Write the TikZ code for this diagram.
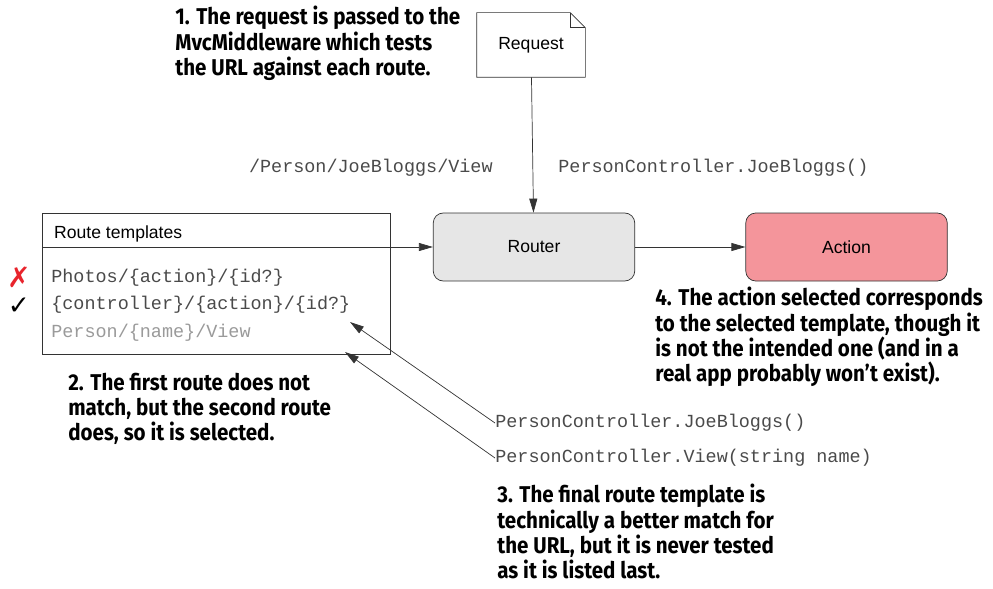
\documentclass[tikz,border=0pt]{standalone}
\usepackage{fontspec}
\usepackage{tikz}
\usepackage{xcolor}
\usetikzlibrary{arrows.meta, positioning, calc}
\setmainfont{Liberation Sans}
\setmonofont{Liberation Mono}
\newfontfamily\notefont[FakeStretch=0.9]{Fira Sans}
\newfontfamily\symfont{DejaVu Sans}
\definecolor{RouterGray}{HTML}{E6E6E6}
\definecolor{ActionRose}{HTML}{F4959B}
\definecolor{EdgeGray}{HTML}{333333}
\definecolor{CodeGray}{HTML}{4A4A4A}
\definecolor{FadedGray}{HTML}{9A9A9A}
\definecolor{MarkRed}{HTML}{E8242C}
\tikzset{
    % Node styles
    docbox/.style={
        rectangle,
        minimum width=2.16cm,
        minimum height=1.28cm,
        text centered,
        font=\fontsize{10}{12}\selectfont
    },
    flowbox/.style={
        rectangle,
        rounded corners=0.2cm,
        draw=EdgeGray,
        minimum width=4.03cm,
        minimum height=1.36cm,
        text centered,
        font=\fontsize{10}{12}\selectfont
    },
    codetext/.style={
        inner sep=0pt,
        text=CodeGray,
        font=\ttfamily\fontsize{10.5}{12}\selectfont
    },
    marktext/.style={
        inner sep=0pt,
        font=\symfont\fontsize{15}{15}\selectfont
    },
    notetext/.style={
        inner sep=0pt,
        align=left,
        text=black,
        font=\notefont\bfseries\fontsize{13}{14.3}\selectfont
    },
    % Arrow styles
    myarrow/.style={
        -{Triangle[length=2.8mm,width=1.6mm]},
        EdgeGray
    }
}
\begin{document}
\begin{tikzpicture}
    \useasboundingbox (0,0) rectangle (19.86,-11.78);

    % main flow
    \node[docbox] (req) at (10.62,-0.9) {Request};
    \draw[EdgeGray] (req.south west) -- (req.north west) -- ($(req.north east)+(-0.3,0)$)
        -- ($(req.north east)+(0,-0.3)$) -- (req.south east) -- cycle;
    \draw[EdgeGray] ($(req.north east)+(-0.3,0)$) -- ($(req.north east)+(-0.3,-0.3)$)
        -- ($(req.north east)+(0,-0.3)$);

    \node[flowbox, fill=RouterGray] (router) at (10.68,-4.94) {Router};
    \node[flowbox, fill=ActionRose] (action) at (16.93,-4.94) {Action};

    % route templates box
    \node[draw=EdgeGray, minimum width=6.96cm, minimum height=2.82cm, anchor=north west] (templates) at (0.84,-4.26) {};
    \coordinate (split) at (7.8,-4.94);
    \draw[EdgeGray] (templates.west |- split) -- (split);
    \node[anchor=west, font=\fontsize{10}{12}\selectfont] (title) at (0.96,-4.68) {Route templates};
    \node[codetext, anchor=west] (tpla) at (1.02,-5.56) {Photos/\{action\}/\{id?\}};
    \node[codetext, anchor=west] (tplb) at (1.02,-6.10) {\{controller\}/\{action\}/\{id?\}};
    \node[codetext, anchor=west, text=FadedGray] (tplc) at (1.02,-6.66) {Person/\{name\}/View};
    \node[marktext, text=MarkRed, font=\symfont\bfseries\fontsize{16}{16}\selectfont] (cross) at (0.38,-5.54) {✗};
    \node[marktext] (tick) at (0.38,-6.12) {✓};

    \draw[myarrow] (req) -- (router);
    \draw[myarrow] (split) -- (router);
    \draw[myarrow] (router) -- (action);

    % labels
    \node[codetext, anchor=east] (url) at (9.86,-3.36) {/Person/JoeBloggs/View};
    \node[codetext, anchor=west] (pickA) at (11.16,-3.36) {PersonController.JoeBloggs()};
    \node[codetext, anchor=west] (pickB) at (9.9,-8.46) {PersonController.JoeBloggs()};
    \node[codetext, anchor=west] (pickC) at (9.9,-9.16) {PersonController.View(string name)};
    \coordinate (hitB) at (7.0,-6.44);
    \coordinate (hitC) at (6.9,-7.04);
    \draw[myarrow] (pickB.west) -- (hitB);
    \draw[myarrow] (pickC.west) -- (hitC);

    % notes
    \node[notetext, anchor=north west] (noteA) at (3.5,-0.12) {1. The request is passed to the\\MvcMiddleware which tests\\the URL against each route.};
    \node[notetext, anchor=north west] (noteB) at (1.36,-7.46) {2. The first route does not\\match, but the second route\\does, so it is selected.};
    \node[notetext, anchor=north west] (noteC) at (9.94,-9.68) {3. The final route template is\\technically a better match for\\the URL, but it is never tested\\as it is listed last.};
    \node[notetext, anchor=north west] (noteD) at (13.1,-5.74) {4. The action selected corresponds\\to the selected template, though it\\is not the intended one (and in a\\real app probably won’t exist).};
\end{tikzpicture}
\end{document}
